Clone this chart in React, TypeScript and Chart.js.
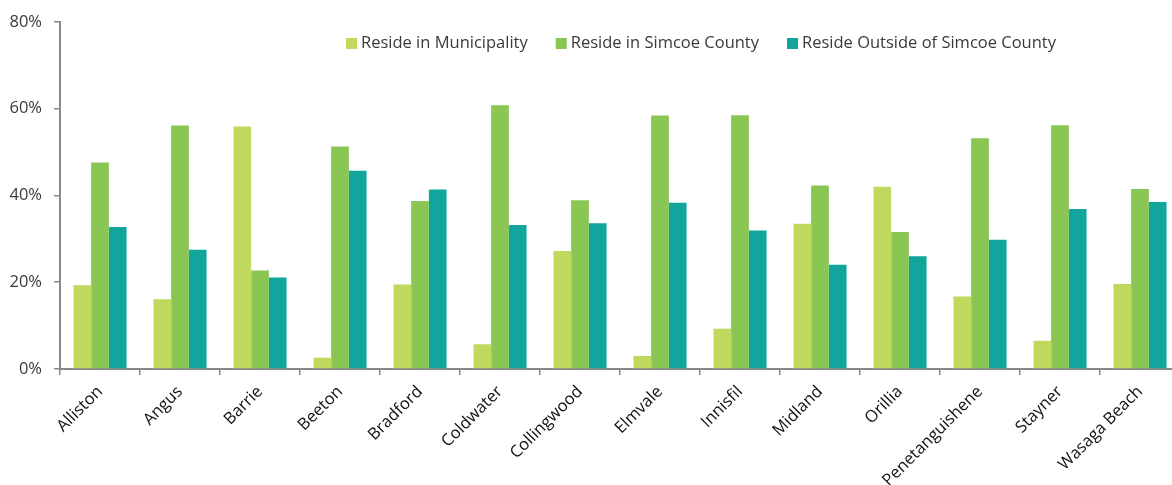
import React, { useEffect, useRef } from "react";
import { Chart, registerables } from "chart.js";
Chart.register(...registerables);

const categories = [
  "Alliston", "Angus", "Barrie", "Beeton", "Bradford", "Coldwater", "Collingwood",
  "Elmvale", "Innisfil", "Midland", "Orillia", "Penetanguishene", "Stayner", "Wasaga Beach",
];
const seriesNames = ["Reside in Municipality", "Reside in Simcoe County", "Reside Outside of Simcoe County"];
const resideMunicipality = [19.3, 16.1, 55.9, 2.6, 19.5, 5.7, 27.2, 3.0, 9.3, 33.5, 42.0, 16.7, 6.5, 19.6];
const resideSimcoe = [47.6, 56.1, 22.7, 51.3, 38.7, 60.8, 38.9, 58.4, 58.5, 42.3, 31.6, 53.2, 56.2, 41.5];
const resideOutside = [32.7, 27.5, 21.1, 45.7, 41.4, 33.2, 33.6, 38.3, 31.9, 24.0, 26.0, 29.8, 36.9, 38.5];
const yMin = 0;
const yMax = 80;
const yStep = 20;

const colors = ["#BED95D", "#89C653", "#12A59B"];
const textColor = "#3a3a3a";
const axisColor = "#888888";
const fontFamily = "'Open Sans', sans-serif";
const fontSize = 16.5;

const legendPlugin = {
  id: "customLegend",
  afterDraw(chart: any) {
    const ctx = chart.ctx;
    ctx.save();
    ctx.font = `${fontSize}px ${fontFamily}`;
    ctx.textBaseline = "middle";
    ctx.textAlign = "left";
    let x = 346;
    const y = 43.5;
    chart.data.datasets.forEach((ds: any) => {
      ctx.fillStyle = ds.backgroundColor;
      ctx.fillRect(x, 38, 11, 11);
      ctx.fillStyle = textColor;
      ctx.fillText(ds.label, x + 15, y);
      x += 15 + ctx.measureText(ds.label).width + 28;
    });
    ctx.restore();
  },
};

export default function App() {
  const ref = useRef<HTMLCanvasElement>(null);
  useEffect(() => {
    if (!ref.current) return;
    const chart = new Chart(ref.current, {
      type: "bar",
      data: {
        labels: categories,
        datasets: [
          { label: seriesNames[0], data: resideMunicipality, backgroundColor: colors[0] },
          { label: seriesNames[1], data: resideSimcoe, backgroundColor: colors[1] },
          { label: seriesNames[2], data: resideOutside, backgroundColor: colors[2] },
        ],
      },
      options: {
        responsive: false,
        animation: false,
        devicePixelRatio: 1,
        layout: { padding: { left: 0, right: 20, top: 19, bottom: 0 } },
        datasets: { bar: { categoryPercentage: 0.664, barPercentage: 1.0, borderWidth: 0 } },
        plugins: { legend: { display: false }, tooltip: { enabled: false } },
        scales: {
          x: {
            grid: { offset: true, drawOnChartArea: false, tickLength: 6, color: axisColor, lineWidth: 1.5 },
            border: { display: true, color: axisColor, width: 2 },
            ticks: {
              minRotation: 45,
              maxRotation: 45,
              autoSkip: false,
              padding: 7,
              color: "#111111",
              font: { family: fontFamily, size: fontSize },
            },
            afterFit: (s: any) => { s.height = 116; },
          },
          y: {
            min: yMin,
            max: yMax,
            grid: { drawOnChartArea: false, tickLength: 6, color: axisColor, lineWidth: 1.5 },
            border: { display: true, color: axisColor, width: 2 },
            ticks: {
              stepSize: yStep,
              padding: 12,
              color: textColor,
              font: { family: fontFamily, size: fontSize },
              callback: (v: any) => `${v}%`,
            },
            afterFit: (s: any) => { s.width = 60; },
          },
        },
      },
      plugins: [legendPlugin],
    });
    return () => chart.destroy();
  }, []);
  return (
    <div style={{ position: "absolute", left: 0, top: 0, width: 1172, height: 485, overflow: "hidden", background: "#fff" }}>
      <canvas ref={ref} width={1200} height={485} style={{ display: "block" }} />
    </div>
  );
}
